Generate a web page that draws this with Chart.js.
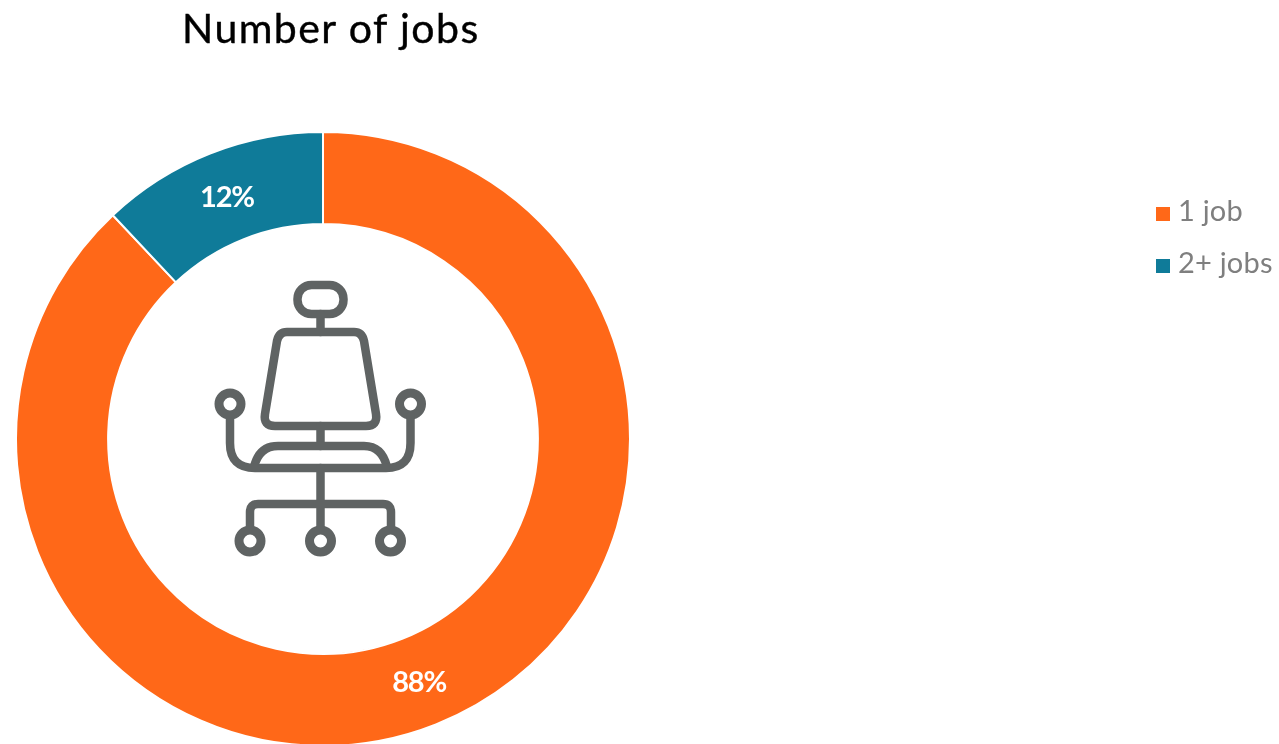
<!DOCTYPE html>
<html>
<head>
<meta charset="utf-8">
<title>Number of jobs</title>
<script src="https://cdn.jsdelivr.net/npm/chart.js@4"></script>
<style>
  html, body { margin: 0; padding: 0; background: #fff; overflow: hidden; }
  #wrap { position: relative; width: 1279px; height: 744px; overflow: hidden; }
  #jobsChart { display: block; }
  #title { position: absolute; left: 182px; top: 3px; font: 400 41px Lato, sans-serif; color: #000; white-space: nowrap; letter-spacing: 1.45px; -webkit-text-stroke: 0.4px #000; }
  #legend { position: absolute; left: 1156px; top: 189px; font: 400 29px Lato, sans-serif; color: #7f7f7f; }
  #legend div { height: 52px; line-height: 42px; white-space: nowrap; letter-spacing: 0.2px; }
  #legend i { display: inline-block; width: 14px; height: 14px; margin-right: 8px; }
  #icon { position: absolute; left: 0; top: 0; pointer-events: none; }
  #icon circle { stroke-width: 9; }
</style>
</head>
<body>
<div id="wrap">
  <canvas id="jobsChart" width="1279" height="747"></canvas>
  <svg id="icon" width="1279" height="744" fill="none" stroke="#5f6363" stroke-width="8.5" stroke-linecap="round" stroke-linejoin="round">
    <rect x="297.5" y="285" width="46" height="29" rx="14" />
    <path d="M320.5 314V332" />
    <path d="M287 332H354Q362 332 364 341L376 414Q378 426 366 426H275Q263 426 265 414L277 341Q279 332 287 332Z" />
    <path d="M320.5 426V446" />
    <path d="M254 467Q259 446 278 446H364Q382 446 387 467" />
    <circle cx="230" cy="404" r="11" />
    <circle cx="410.5" cy="404" r="11" />
    <path d="M230 416V443Q230 468 255 468H386Q410.5 468 410.5 443V416" />
    <path d="M320.5 468V529" />
    <path d="M250 529V512Q250 504 258 504H383Q391 504 391 512V529" />
    <circle cx="250" cy="541" r="11" />
    <circle cx="320.5" cy="541" r="11" />
    <circle cx="390.5" cy="541" r="11" />
  </svg>
  <div id="title">Number of jobs</div>
  <div id="legend"></div>
</div>
<script>
// --- chart data ---
const categories = ["1 job", "2+ jobs"];
const shares = [88, 12];
const sliceColors = ["#ff6818", "#0f7b99"];

// white percent label in the middle of each ring slice
const sliceLabels = {
  id: "sliceLabels",
  afterDatasetsDraw(chart) {
    const ctx = chart.ctx;
    ctx.save();
    ctx.fillStyle = "#fff";
    ctx.font = "700 29px Lato, sans-serif";
    ctx.letterSpacing = "-1.2px";
    ctx.textAlign = "center";
    ctx.textBaseline = "middle";
    chart.getDatasetMeta(0).data.forEach((arc, i) => {
      const pos = arc.getCenterPoint();
      ctx.fillText(shares[i] + "%", pos.x, pos.y + 1);
    });
    ctx.restore();
  },
};

new Chart(document.getElementById("jobsChart").getContext("2d"), {
  type: "doughnut",
  data: {
    labels: categories,
    datasets: [
      {
        data: shares,
        backgroundColor: sliceColors,
        borderColor: "#fff",
        borderWidth: 2,
      },
    ],
  },
  options: {
    responsive: false,
    animation: false,
    cutout: "70%",
    layout: { padding: { left: 15, top: 131, right: 648, bottom: 0 } },
    plugins: { legend: { display: false }, tooltip: { enabled: false } },
  },
  plugins: [sliceLabels],
});

// --- legend ---
const legend = document.getElementById("legend");
categories.forEach((name, i) => {
  const row = document.createElement("div");
  const box = document.createElement("i");
  box.style.background = sliceColors[i];
  row.appendChild(box);
  row.appendChild(document.createTextNode(name));
  legend.appendChild(row);
});
</script>
</body>
</html>
